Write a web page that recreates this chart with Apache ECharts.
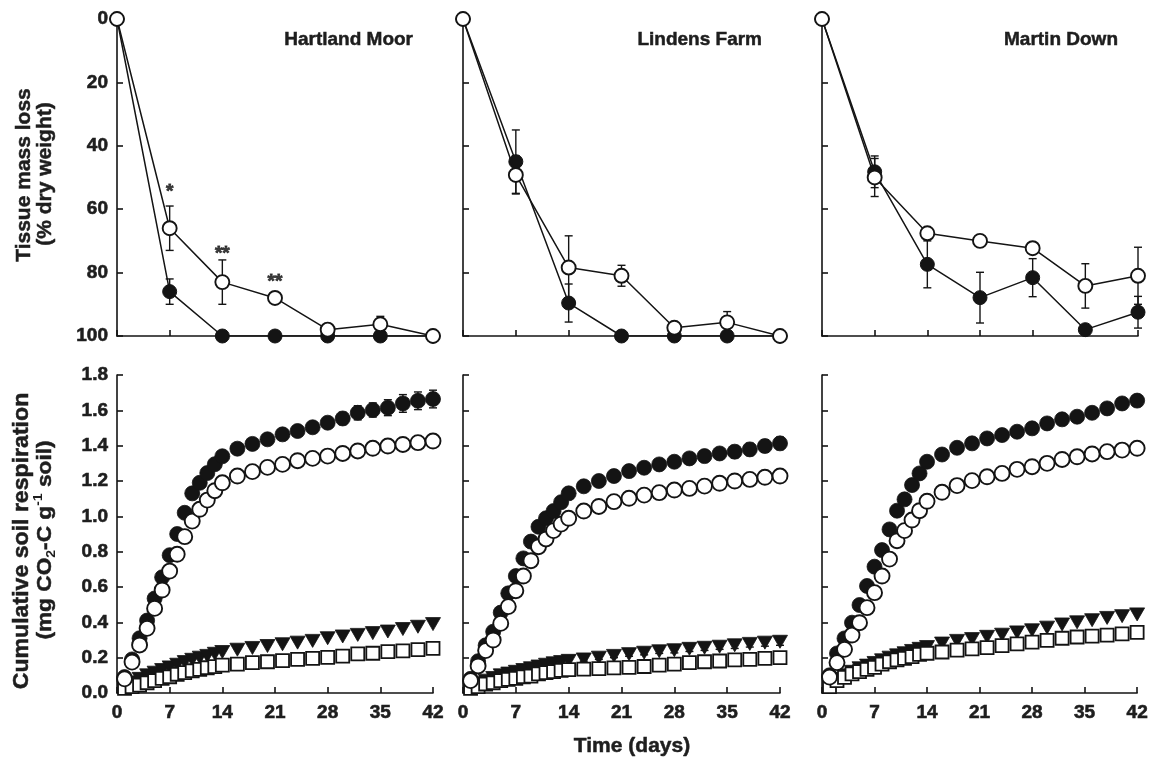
<!DOCTYPE html>
<html><head><meta charset="utf-8">
<script src="https://cdn.jsdelivr.net/npm/echarts@6/dist/echarts.min.js"></script>
<style>html,body{margin:0;padding:0;background:#fff}#c{width:1151px;height:761px}</style>
</head><body><div id="c"></div>
<script>
// ---------- DATA ----------
const sites = ['Hartland Moor', 'Lindens Farm', 'Martin Down'];
const xTicks = [0, 7, 14, 21, 28, 35, 42];
const massYTicks = [0, 20, 40, 60, 80, 100];
const respYTicks = [0.0, 0.2, 0.4, 0.6, 0.8, 1.0, 1.2, 1.4, 1.6, 1.8];

// Tissue mass loss (% dry weight)
const massDays = [0, 7, 14, 21, 28, 35, 42];
const massFilledHM = [0, 86, 100, 100, 100, 100, 100];
const massFilledHMErr = [0, 4, 0, 0, 0, 0, 0];
const massOpenHM = [0, 66, 83, 88, 98, 96.3, 100];
const massOpenHMErr = [0, 7, 7, 0, 0, 2.5, 0];
const massFilledLF = [0, 45, 89.6, 100, 100, 100, 100];
const massFilledLFErr = [0, 10, 6, 0, 0, 0, 0];
const massOpenLF = [0, 49.2, 78.4, 81, 97.4, 95.7, 100];
const massOpenLFErr = [0, 6, 10, 3.3, 0, 3.4, 0];
const massFilledMD = [0, 48.2, 77.4, 87.9, 81.6, 98, 92.5];
const massFilledMDErr = [0, 5, 7.4, 8, 6, 0, 5];
const massOpenMD = [0, 50, 67.6, 70, 72.3, 84.2, 81];
const massOpenMDErr = [0, 6, 0, 0, 0, 7, 9];

// significance marks (Hartland Moor)
const starDays = [7, 14, 21];
const starLevels = [54.5, 74, 83];
const starText = ['*', '**', '**'];

// Cumulative soil respiration (mg CO2-C g-1 soil)
const respDays = [1,2,3,4,5,6,7,8,9,10,11,12,13,14,16,18,20,22,24,26,28,30,32,34,36,38,40,42];

const respFilledHM = [0.09,0.19,0.31,0.41,0.535,0.655,0.78,0.9,1.02,1.13,1.19,1.245,1.295,1.34,1.383,1.41,1.436,1.464,1.483,1.504,1.53,1.554,1.586,1.602,1.615,1.639,1.654,1.664];
const respFilledHMErr = [0.01,0.01,0.01,0.01,0.01,0.01,0.01,0.012,0.012,0.012,0.012,0.012,0.015,0.015,0.015,0.02,0.02,0.025,0.025,0.03,0.03,0.035,0.04,0.04,0.045,0.05,0.05,0.05];
const respOpenHM = [0.08,0.175,0.272,0.366,0.479,0.583,0.69,0.785,0.885,0.973,1.04,1.092,1.145,1.19,1.228,1.253,1.277,1.294,1.315,1.328,1.341,1.356,1.37,1.385,1.398,1.407,1.417,1.426];
const respTriHM = [0.04,0.06,0.08,0.1,0.115,0.13,0.145,0.16,0.175,0.188,0.2,0.21,0.222,0.232,0.245,0.255,0.266,0.276,0.285,0.295,0.31,0.32,0.329,0.339,0.348,0.362,0.375,0.39];
const respSqHM = [0.026,0.036,0.045,0.058,0.07,0.083,0.092,0.106,0.115,0.126,0.134,0.143,0.149,0.158,0.164,0.172,0.177,0.183,0.19,0.196,0.202,0.209,0.221,0.225,0.234,0.238,0.245,0.253];

const respFilledLF = [0.08,0.18,0.27,0.347,0.455,0.564,0.662,0.762,0.857,0.941,0.989,1.03,1.08,1.13,1.17,1.2,1.228,1.256,1.275,1.294,1.309,1.328,1.341,1.356,1.366,1.379,1.398,1.413];
const respFilledLFErr = [0.01,0.01,0.01,0.01,0.01,0.01,0.01,0.012,0.012,0.012,0.012,0.012,0.015,0.015,0.015,0.02,0.02,0.02,0.025,0.025,0.025,0.03,0.03,0.03,0.035,0.035,0.035,0.035];
const respOpenLF = [0.07,0.153,0.24,0.3,0.394,0.489,0.579,0.662,0.749,0.828,0.872,0.919,0.956,0.989,1.03,1.056,1.083,1.102,1.12,1.134,1.149,1.158,1.171,1.187,1.2,1.209,1.221,1.228];
const respTriLF = [0.04,0.055,0.07,0.085,0.1,0.11,0.12,0.13,0.14,0.15,0.16,0.168,0.175,0.182,0.19,0.2,0.21,0.22,0.228,0.236,0.242,0.25,0.256,0.262,0.27,0.278,0.285,0.29];
const respTriLFErr = [0,0,0,0,0,0,0,0,0,0,0,0,0,0,0.01,0.01,0.01,0.012,0.012,0.012,0.015,0.015,0.015,0.015,0.018,0.018,0.02,0.02];
const respSqLF = [0.026,0.036,0.051,0.058,0.07,0.077,0.083,0.092,0.096,0.108,0.115,0.121,0.128,0.132,0.135,0.138,0.142,0.145,0.15,0.158,0.164,0.172,0.177,0.181,0.187,0.19,0.196,0.2];

const respFilledMD = [0.1,0.224,0.309,0.398,0.498,0.606,0.715,0.809,0.926,1.032,1.096,1.177,1.243,1.309,1.35,1.388,1.413,1.441,1.46,1.479,1.498,1.526,1.549,1.564,1.586,1.611,1.639,1.655];
const respFilledMDErr = [0.01,0.01,0.01,0.01,0.01,0.01,0.01,0.01,0.01,0.01,0.012,0.012,0.012,0.012,0.015,0.015,0.015,0.02,0.02,0.02,0.02,0.025,0.025,0.025,0.025,0.03,0.03,0.03];
const respOpenMD = [0.09,0.172,0.247,0.328,0.398,0.483,0.568,0.662,0.758,0.862,0.919,0.979,1.032,1.085,1.136,1.174,1.202,1.224,1.243,1.266,1.281,1.3,1.322,1.337,1.353,1.366,1.375,1.385];
const respTriMD = [0.05,0.08,0.1,0.12,0.14,0.155,0.17,0.185,0.2,0.213,0.225,0.238,0.25,0.26,0.28,0.295,0.305,0.318,0.33,0.343,0.355,0.37,0.388,0.4,0.412,0.425,0.435,0.445];
const respSqMD = [0.036,0.07,0.089,0.108,0.121,0.134,0.145,0.164,0.177,0.187,0.196,0.206,0.219,0.225,0.232,0.243,0.25,0.257,0.268,0.278,0.288,0.298,0.31,0.317,0.322,0.328,0.335,0.343];

// ---------- CHART ----------
const FONT = '"Liberation Sans", Arial, Helvetica, sans-serif';
const INK = '#141414';
const TXT = '#1e1e1e';

const massSets = [
  {filled: massFilledHM, fErr: massFilledHMErr, open: massOpenHM, oErr: massOpenHMErr},
  {filled: massFilledLF, fErr: massFilledLFErr, open: massOpenLF, oErr: massOpenLFErr},
  {filled: massFilledMD, fErr: massFilledMDErr, open: massOpenMD, oErr: massOpenMDErr}
];
const respSets = [
  {filled: respFilledHM, fErr: respFilledHMErr, open: respOpenHM, tri: respTriHM, tErr: null, sq: respSqHM},
  {filled: respFilledLF, fErr: respFilledLFErr, open: respOpenLF, tri: respTriLF, tErr: respTriLFErr, sq: respSqLF},
  {filled: respFilledMD, fErr: respFilledMDErr, open: respOpenMD, tri: respTriMD, tErr: null, sq: respSqMD}
];

const colLeft = [117, 463, 822];
const colWidth = [316, 317, 316];
const grids = [];
for (let r = 0; r < 2; r++) {
  for (let c = 0; c < 3; c++) {
    grids.push({left: colLeft[c], width: colWidth[c], top: r === 0 ? 19 : 375, height: r === 0 ? 317 : 318});
  }
}

const axisLine = {show: true, onZero: false, lineStyle: {color: INK, width: 1.6}};
const axisTick = {show: true, inside: true, length: 6, lineStyle: {color: INK, width: 1.6}};
const labelStyle = {color: TXT, fontFamily: FONT, fontWeight: 'bold', fontSize: 19, textBorderColor: TXT, textBorderWidth: 0.6};

const xAxes = [], yAxes = [];
for (let g = 0; g < 6; g++) {
  const bottom = g >= 3;
  xAxes.push({
    type: 'value', gridIndex: g, min: xTicks[0], max: xTicks[xTicks.length - 1], interval: xTicks[1] - xTicks[0],
    axisLine, axisTick, splitLine: {show: false},
    axisLabel: Object.assign({show: bottom, margin: 10}, labelStyle)
  });
  yAxes.push(bottom ? {
    type: 'value', gridIndex: g, min: respYTicks[0], max: respYTicks[respYTicks.length - 1], interval: respYTicks[1] - respYTicks[0],
    axisLine, axisTick, splitLine: {show: false},
    axisLabel: Object.assign({show: g === 3, margin: 9, formatter: v => v.toFixed(1)}, labelStyle)
  } : {
    type: 'value', gridIndex: g, inverse: true, min: massYTicks[0], max: massYTicks[massYTicks.length - 1], interval: massYTicks[1] - massYTicks[0],
    axisLine, axisTick, splitLine: {show: false},
    axisLabel: Object.assign({show: g === 0, margin: 9}, labelStyle)
  });
}

function errRender(params, api) {
  const x = api.value(0), lo = api.value(1), hi = api.value(2);
  const p1 = api.coord([x, lo]), p2 = api.coord([x, hi]);
  const w = 4;
  const style = {stroke: INK, lineWidth: 1.4, fill: null};
  return {type: 'group', children: [
    {type: 'line', shape: {x1: p1[0], y1: p1[1], x2: p2[0], y2: p2[1]}, style},
    {type: 'line', shape: {x1: p1[0] - w, y1: p1[1], x2: p1[0] + w, y2: p1[1]}, style},
    {type: 'line', shape: {x1: p2[0] - w, y1: p2[1], x2: p2[0] + w, y2: p2[1]}, style}
  ]};
}
function errData(xs, ys, es) {
  const out = [];
  xs.forEach((x, i) => { if (es && es[i] > 0) out.push([x, ys[i] - es[i], ys[i] + es[i]]); });
  return out;
}
function pairs(xs, ys) { return xs.map((x, i) => [x, ys[i]]); }

const series = [];
// top row: tissue mass loss
massSets.forEach((s, i) => {
  series.push({type: 'custom', xAxisIndex: i, yAxisIndex: i, renderItem: errRender, clip: false,
    data: errData(massDays, s.filled, s.fErr).concat(errData(massDays, s.open, s.oErr)), z: 1, silent: true});
  series.push({type: 'line', xAxisIndex: i, yAxisIndex: i, data: pairs(massDays, s.filled), z: 2,
    symbol: 'circle', symbolSize: 14, showAllSymbol: true,
    lineStyle: {color: INK, width: 1.5}, itemStyle: {color: INK, borderColor: INK, borderWidth: 1, opacity: 1}});
  series.push({type: 'line', xAxisIndex: i, yAxisIndex: i, data: pairs(massDays, s.open), z: 3,
    symbol: 'circle', symbolSize: 14, showAllSymbol: true,
    lineStyle: {color: INK, width: 1.5}, itemStyle: {color: '#fff', borderColor: INK, borderWidth: 1.9, opacity: 1}});
});
// significance marks
series.push({type: 'scatter', xAxisIndex: 0, yAxisIndex: 0, z: 5, symbolSize: 1,
  itemStyle: {color: 'rgba(0,0,0,0)'},
  data: starDays.map((d, i) => [d, starLevels[i]]),
  label: {show: true, position: 'inside', formatter: p => starText[p.dataIndex],
    color: INK, fontFamily: FONT, fontWeight: 'bold', fontSize: 19, textBorderColor: INK, textBorderWidth: 0.8}});

// bottom row: respiration
respSets.forEach((s, i) => {
  const g = i + 3;
  series.push({type: 'custom', xAxisIndex: g, yAxisIndex: g, renderItem: errRender, clip: false,
    data: errData(respDays, s.filled, s.fErr).concat(errData(respDays, s.tri, s.tErr)), z: 1, silent: true});
  series.push({type: 'scatter', xAxisIndex: g, yAxisIndex: g, data: pairs(respDays, s.tri), z: 2,
    symbol: 'triangle', symbolRotate: 180, symbolSize: [15, 13],
    itemStyle: {color: INK, borderColor: INK, borderWidth: 0.8, opacity: 1}});
  series.push({type: 'scatter', xAxisIndex: g, yAxisIndex: g, data: pairs(respDays, s.sq), z: 3,
    symbol: 'rect', symbolSize: 13,
    itemStyle: {color: '#fff', borderColor: INK, borderWidth: 1.8, opacity: 1}});
  series.push({type: 'scatter', xAxisIndex: g, yAxisIndex: g, data: pairs(respDays, s.filled), z: 4,
    symbol: 'circle', symbolSize: 15,
    itemStyle: {color: INK, borderColor: INK, borderWidth: 0.8, opacity: 1}});
  series.push({type: 'scatter', xAxisIndex: g, yAxisIndex: g, data: pairs(respDays, s.open), z: 5,
    symbol: 'circle', symbolSize: 15,
    itemStyle: {color: '#fff', borderColor: INK, borderWidth: 1.9, opacity: 1}});
});

const titleRight = [413, 762, 1118];
const graphic = [];
sites.forEach((name, i) => {
  graphic.push({type: 'text', x: titleRight[i], y: 40, z: 10,
    style: {text: name, fill: TXT, font: 'bold 19px ' + FONT, textAlign: 'right', textVerticalAlign: 'middle', stroke: TXT, lineWidth: 0.5}});
});
graphic.push({type: 'text', x: 632, y: 746, style: {text: 'Time (days)', fill: TXT, font: 'bold 21px ' + FONT, textAlign: 'center', textVerticalAlign: 'middle', stroke: TXT, lineWidth: 0.5}});
graphic.push({type: 'text', x: 24, y: 175, rotation: Math.PI / 2,
  style: {text: 'Tissue mass loss', fill: TXT, font: 'bold 21px ' + FONT, textAlign: 'center', textVerticalAlign: 'middle', stroke: TXT, lineWidth: 0.5}});
graphic.push({type: 'text', x: 45, y: 174, rotation: Math.PI / 2,
  style: {text: '(% dry weight)', fill: TXT, font: 'bold 21px ' + FONT, textAlign: 'center', textVerticalAlign: 'middle', stroke: TXT, lineWidth: 0.5}});
graphic.push({type: 'text', x: 22, y: 541, rotation: Math.PI / 2, scaleX: 1.05,
  style: {text: 'Cumulative soil respiration', fill: TXT, font: 'bold 22px ' + FONT, textAlign: 'center', textVerticalAlign: 'middle', stroke: TXT, lineWidth: 0.5}});
graphic.push({type: 'text', x: 45, y: 540, rotation: Math.PI / 2, scaleX: 1.08,
  style: {
    text: '{m|(mg CO}{s|2}{m|-C g}{p|-1}{m| soil)}', textAlign: 'center', textVerticalAlign: 'middle',
    rich: {
      m: {fill: TXT, fontFamily: FONT, fontWeight: 'bold', fontSize: 21, lineHeight: 26, verticalAlign: 'middle', stroke: TXT, lineWidth: 0.5},
      s: {fill: TXT, fontFamily: FONT, fontWeight: 'bold', fontSize: 13, lineHeight: 26, verticalAlign: 'bottom'},
      p: {fill: TXT, fontFamily: FONT, fontWeight: 'bold', fontSize: 13, lineHeight: 26, verticalAlign: 'top'}
    }
  }});

const chart = echarts.init(document.getElementById('c'), null, {renderer: 'canvas'});
chart.setOption({
  animation: false,
  backgroundColor: '#fff',
  grid: grids,
  xAxis: xAxes,
  yAxis: yAxes,
  series,
  graphic
});
</script></body></html>
